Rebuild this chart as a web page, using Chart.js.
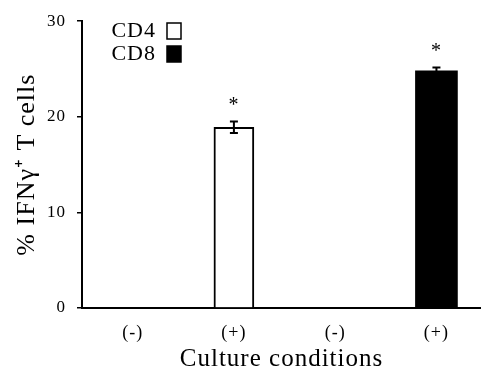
<!DOCTYPE html>
<html>
<head>
<meta charset="utf-8">
<script src="https://cdn.jsdelivr.net/npm/chart.js@4/dist/chart.umd.min.js"></script>
<style>
  body { margin: 0; background: #fff; }
  #plot { display: block; }
</style>
</head>
<body>
<canvas id="plot" width="481" height="372"></canvas>
<script>
var categories = ['(-)', '(+)', '(-)', '(+)'];
var cd4Values = [0, 18.9, null, null];
var cd4Errors = [0, 0.6, null, null];
var cd4Marks = ['', '*', '', ''];
var cd8Values = [null, null, 0, 24.8];
var cd8Errors = [null, null, 0, 0.35];
var cd8Marks = ['', '', '', '*'];

var serif = '"Liberation Serif", "Times New Roman", serif';

function points(values) {
    return values.map(function (v, i) { return { x: i, y: v }; });
}

// the typeface in this figure runs a little wide
var spacing = {
    id: 'spacing',
    beforeDraw: function (chart) {
        chart.ctx.letterSpacing = '1px';
    }
};

// error whiskers and significance stars on top of the bars
var errorBars = {
    id: 'errorBars',
    afterDatasetsDraw: function (chart) {
        var ctx = chart.ctx;
        var xs = chart.scales.x, ys = chart.scales.y;
        ctx.save();
        ctx.strokeStyle = '#000';
        ctx.fillStyle = '#000';
        ctx.lineWidth = 2;
        chart.data.datasets.forEach(function (ds) {
            ds.data.forEach(function (p, i) {
                if (p.y === null) return;
                var err = ds.errors[i] || 0;
                var x = xs.getPixelForValue(i);
                var top = ys.getPixelForValue(p.y + err);
                var bot = ys.getPixelForValue(p.y - err);
                if (err > 0) {
                    ctx.beginPath();
                    ctx.moveTo(x, top); ctx.lineTo(x, bot);
                    ctx.moveTo(x - 4, top); ctx.lineTo(x + 4, top);
                    ctx.moveTo(x - 4, bot); ctx.lineTo(x + 4, bot);
                    ctx.stroke();
                }
                if (ds.marks[i]) {
                    ctx.font = '20px ' + serif;
                    ctx.textAlign = 'center';
                    ctx.textBaseline = 'alphabetic';
                    ctx.fillText(ds.marks[i], x, top - 11);
                }
            });
        });
        ctx.restore();
    }
};

// legend with the label first and the swatch after it
var sideLegend = {
    id: 'sideLegend',
    afterDraw: function (chart) {
        var ctx = chart.ctx;
        ctx.save();
        ctx.font = '22px ' + serif;
        ctx.textAlign = 'right';
        ctx.textBaseline = 'middle';
        chart.data.datasets.forEach(function (ds, k) {
            var cy = 31 + k * 23;
            ctx.fillStyle = '#000';
            ctx.fillText(ds.label, 156, cy);
            ctx.fillStyle = ds.backgroundColor;
            ctx.fillRect(167, cy - 8, 14, 16);
            ctx.strokeStyle = '#000';
            ctx.lineWidth = 1.5;
            ctx.strokeRect(167, cy - 8, 14, 16);
        });
        ctx.restore();
    }
};

var chart = new Chart(document.getElementById('plot').getContext('2d'), {
    type: 'bar',
    data: {
        datasets: [{
            label: 'CD4',
            data: points(cd4Values),
            errors: cd4Errors,
            marks: cd4Marks,
            backgroundColor: '#ffffff',
            borderColor: '#000000',
            borderWidth: 2,
            borderSkipped: 'start',
            barThickness: 40,
            grouped: false
        }, {
            label: 'CD8',
            data: points(cd8Values),
            errors: cd8Errors,
            marks: cd8Marks,
            backgroundColor: '#000000',
            borderColor: '#000000',
            borderWidth: 0,
            barThickness: 42,
            grouped: false
        }]
    },
    options: {
        responsive: false,
        devicePixelRatio: 1,
        animation: false,
        layout: { padding: { top: 20, right: 0, bottom: 0, left: 0 } },
        plugins: {
            legend: { display: false },
            tooltip: { enabled: false }
        },
        scales: {
            x: {
                type: 'linear',
                offset: false,
                min: -0.5,
                max: 3.44,
                afterBuildTicks: function (scale) {
                    scale.ticks = categories.map(function (c, i) { return { value: i }; });
                },
                afterFit: function (scale) { scale.height = 64; },
                grid: { display: false, drawTicks: false },
                border: { display: true, color: '#000', width: 2 },
                ticks: {
                    color: '#000',
                    padding: 14,
                    font: { family: serif, size: 18 },
                    callback: function (v) { return categories[v]; }
                },
                title: {
                    display: true,
                    text: 'Culture conditions',
                    color: '#000',
                    font: { family: serif, size: 25, lineHeight: 1 },
                    padding: { top: 0, bottom: 0 }
                }
            },
            y: {
                min: 0,
                max: 30,
                afterFit: function (scale) { scale.width = 82; },
                grid: { drawOnChartArea: false, drawTicks: true, tickLength: 5, color: '#000', lineWidth: 1.5 },
                border: { display: true, color: '#000', width: 2 },
                ticks: {
                    stepSize: 10,
                    color: '#000',
                    padding: 11,
                    font: { family: serif, size: 17 }
                },
                title: {
                    display: true,
                    text: '% IFNγ⁺ T cells',
                    color: '#000',
                    font: { family: serif, size: 26 },
                    padding: { top: 12, bottom: 0 }
                }
            }
        }
    },
    plugins: [spacing, errorBars, sideLegend]
});
</script>
</body>
</html>
